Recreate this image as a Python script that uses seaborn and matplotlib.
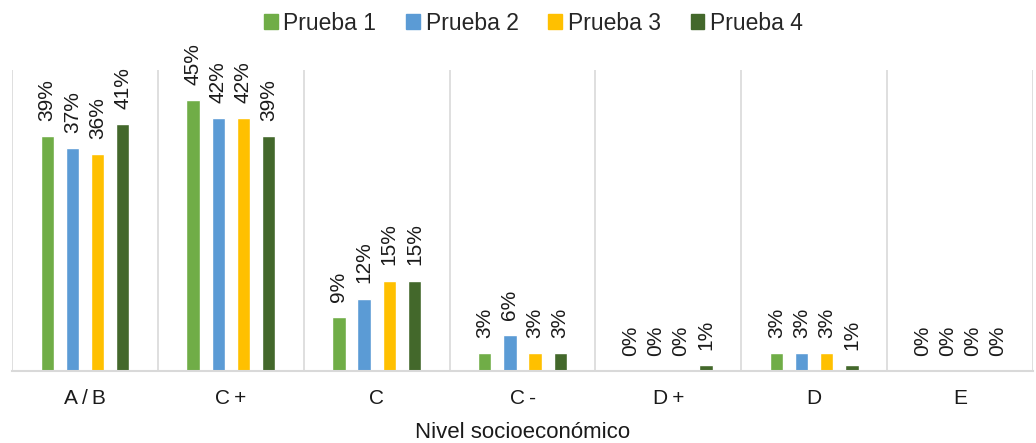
import pandas as pd
import matplotlib.pyplot as plt
import seaborn as sns

# --------------------------
# Datos
# --------------------------
niveles = ["A\u2009/\u2009B", "C\u2009+", "C", "C\u2009-", "D\u2009+", "D", "E"]
series = ["Prueba 1", "Prueba 2", "Prueba 3", "Prueba 4"]
prueba_1 = [39, 45, 9, 3, 0, 3, 0]
prueba_2 = [37, 42, 12, 6, 0, 3, 0]
prueba_3 = [36, 42, 15, 3, 0, 3, 0]
prueba_4 = [41, 39, 15, 3, 1, 1, 0]
colores = ["#70AD47", "#5B9BD5", "#FFC000", "#43682B"]

df = pd.DataFrame({
    "Nivel": niveles * 4,
    "Prueba": [s for s in series for _ in niveles],
    "Valor": prueba_1 + prueba_2 + prueba_3 + prueba_4,
})

sns.set_style("white")
plt.rcParams["font.family"] = ["Liberation Sans", "DejaVu Sans"]

fig = plt.figure(figsize=(10.36, 4.43), dpi=100)
ax = fig.add_axes([0.0116, 0.1625, 0.9855, 0.6795])

sns.barplot(data=df, x="Nivel", y="Valor", hue="Prueba", order=niveles,
            hue_order=series, palette=colores, width=0.69, gap=0.47,
            saturation=1, ax=ax, legend=False)

for cont in ax.containers:
    ax.bar_label(cont, fmt="%.0f%%", rotation=90, padding=11, fontsize=15,
                 color="#1a1a1a")

ax.set_xlim(-0.5, len(niveles) - 0.5)
ax.set_ylim(0, 50)
ax.set_yticks([])
ax.set_ylabel("")
for i in range(len(niveles) + 1):
    ax.axvline(i - 0.5, color="#D9D9D9", lw=1.2, zorder=0)
for s in ["top", "right", "left"]:
    ax.spines[s].set_visible(False)
ax.spines["bottom"].set_color("#D9D9D9")
ax.spines["bottom"].set_linewidth(1.5)
ax.tick_params(axis="x", length=0, pad=13, labelsize=15, colors="#1a1a1a")
ax.set_xlabel("Nivel socioeconómico", fontsize=16, color="#1a1a1a", labelpad=10)

handles = [plt.Rectangle((0, 0), 1, 1, color=c) for c in colores]
fig.legend(handles, series, loc="upper center", bbox_to_anchor=(0.515, 1.02),
           ncol=4, frameon=False, fontsize=16.5, handlelength=0.6,
           handleheight=0.6, handletextpad=0.25, columnspacing=1.3)

plt.savefig("out.png", dpi=100)
plt.close()
